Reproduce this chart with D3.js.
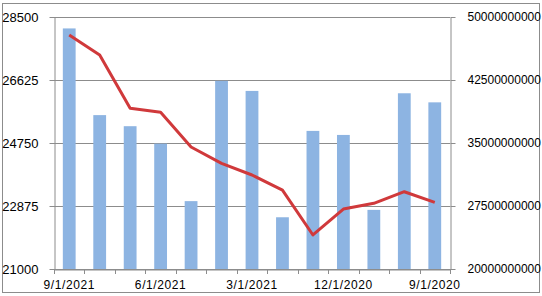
<!DOCTYPE html>
<head>
<meta charset="utf-8">
<script src="https://d3js.org/d3.v7.min.js"></script>
<style>
  body { margin: 0; background: #fff; }
  text { font-family: "Liberation Sans", Arial, sans-serif; font-size: 12px; fill: #000; }
</style>
</head>
<body>
<svg></svg>
<script>
var dates = ["9/1/2021","8/1/2021","7/1/2021","6/1/2021","5/1/2021","4/1/2021","3/1/2021",
             "2/1/2021","1/1/2021","12/1/2020","11/1/2020","10/1/2020","9/1/2020"];
var barValues = [28160, 25580, 25250, 24730, 23020, 26600, 26300, 22540, 25110, 24990, 22760, 26230, 25960];
var lineValues = [47.86e9, 45.48e9, 39.13e9, 38.65e9, 34.52e9, 32.58e9, 31.19e9, 29.40e9, 24.05e9, 27.14e9, 27.82e9, 29.20e9, 27.94e9];
var leftTicks = [21000, 22875, 24750, 26625, 28500];
var rightTicks = [20e9, 27.5e9, 35e9, 42.5e9, 50e9];
var labelDates = ["9/1/2021","6/1/2021","3/1/2021","12/1/2020","9/1/2020"];

var width = 542, height = 296;
var plotLeft = 54, plotRight = 450, plotTop = 17, plotBottom = 269;

var svg = d3.select("svg").attr("width", width).attr("height", height);

// outer border
svg.append("rect").attr("x", 2.5).attr("y", 3.5).attr("width", 537).attr("height", 289)
    .attr("fill", "none").attr("stroke", "#8c8c8c");

var x = d3.scaleBand().domain(dates).range([plotLeft, plotRight]).paddingInner(0.58).paddingOuter(0.29);
var xc = d3.scaleBand().domain(dates).range([plotLeft, plotRight]);
var yL = d3.scaleLinear().domain([21000, 28500]).range([plotBottom, plotTop]);
var yR = d3.scaleLinear().domain([20e9, 50e9]).range([plotBottom, plotTop]);

// gridlines
svg.append("g").selectAll("line").data(leftTicks).enter().append("line")
    .attr("x1", plotLeft).attr("x2", plotRight)
    .attr("y1", function(d){ return Math.round(yL(d)) + 0.5; })
    .attr("y2", function(d){ return Math.round(yL(d)) + 0.5; })
    .attr("stroke", "#8c8c8c");

// bars
svg.append("g").selectAll("rect").data(barValues).enter().append("rect")
    .attr("x", function(d, i){ return x(dates[i]); })
    .attr("width", x.bandwidth())
    .attr("y", function(d){ return yL(d); })
    .attr("height", function(d){ return plotBottom - yL(d); })
    .attr("fill", "#8db4e2");

// left axis
var axL = svg.append("g").attr("transform", "translate(" + (plotLeft + 0.5) + ",0)")
    .call(d3.axisLeft(yL).tickValues(leftTicks).tickSize(5).tickSizeOuter(0).tickPadding(12)
        .tickFormat(d3.format("d")));
// right axis
var axR = svg.append("g").attr("transform", "translate(" + (plotRight + 0.5) + ",0)")
    .call(d3.axisRight(yR).tickValues(rightTicks).tickSize(5).tickSizeOuter(0).tickPadding(12)
        .tickFormat(d3.format("d")));
// bottom axis
var axB = svg.append("g").attr("transform", "translate(0," + (plotBottom + 0.5) + ")")
    .call(d3.axisBottom(xc).tickSize(0).tickSizeOuter(0).tickPadding(11)
        .tickFormat(function(d){ return labelDates.indexOf(d) >= 0 ? d : ""; }));
svg.append("g").selectAll("line").data(d3.range(dates.length + 1)).enter().append("line")
    .attr("x1", function(i){ return Math.round(plotLeft + i * xc.step()) + 0.5; })
    .attr("x2", function(i){ return Math.round(plotLeft + i * xc.step()) + 0.5; })
    .attr("y1", plotBottom).attr("y2", plotBottom + 5)
    .attr("stroke", "#8c8c8c");

[axL, axR, axB].forEach(function(a){
    a.selectAll("path.domain").attr("stroke", "#8c8c8c");
    a.selectAll(".tick line").attr("stroke", "#8c8c8c");
    a.selectAll("text").style("font-family", "'Liberation Sans', Arial, sans-serif").style("font-size", "12px");
});
axL.selectAll("text").attr("x", -16).attr("text-anchor", "end").style("font-size", "13px");
axB.selectAll("text").style("letter-spacing", "0.6px");

// line
var line = d3.line()
    .x(function(d, i){ return xc(dates[i]) + xc.bandwidth() / 2; })
    .y(function(d){ return yR(d); });
svg.append("path").datum(lineValues).attr("d", line)
    .attr("fill", "none").attr("stroke", "#d0393b").attr("stroke-width", 3)
    .attr("stroke-linejoin", "round");
</script>
</body>
